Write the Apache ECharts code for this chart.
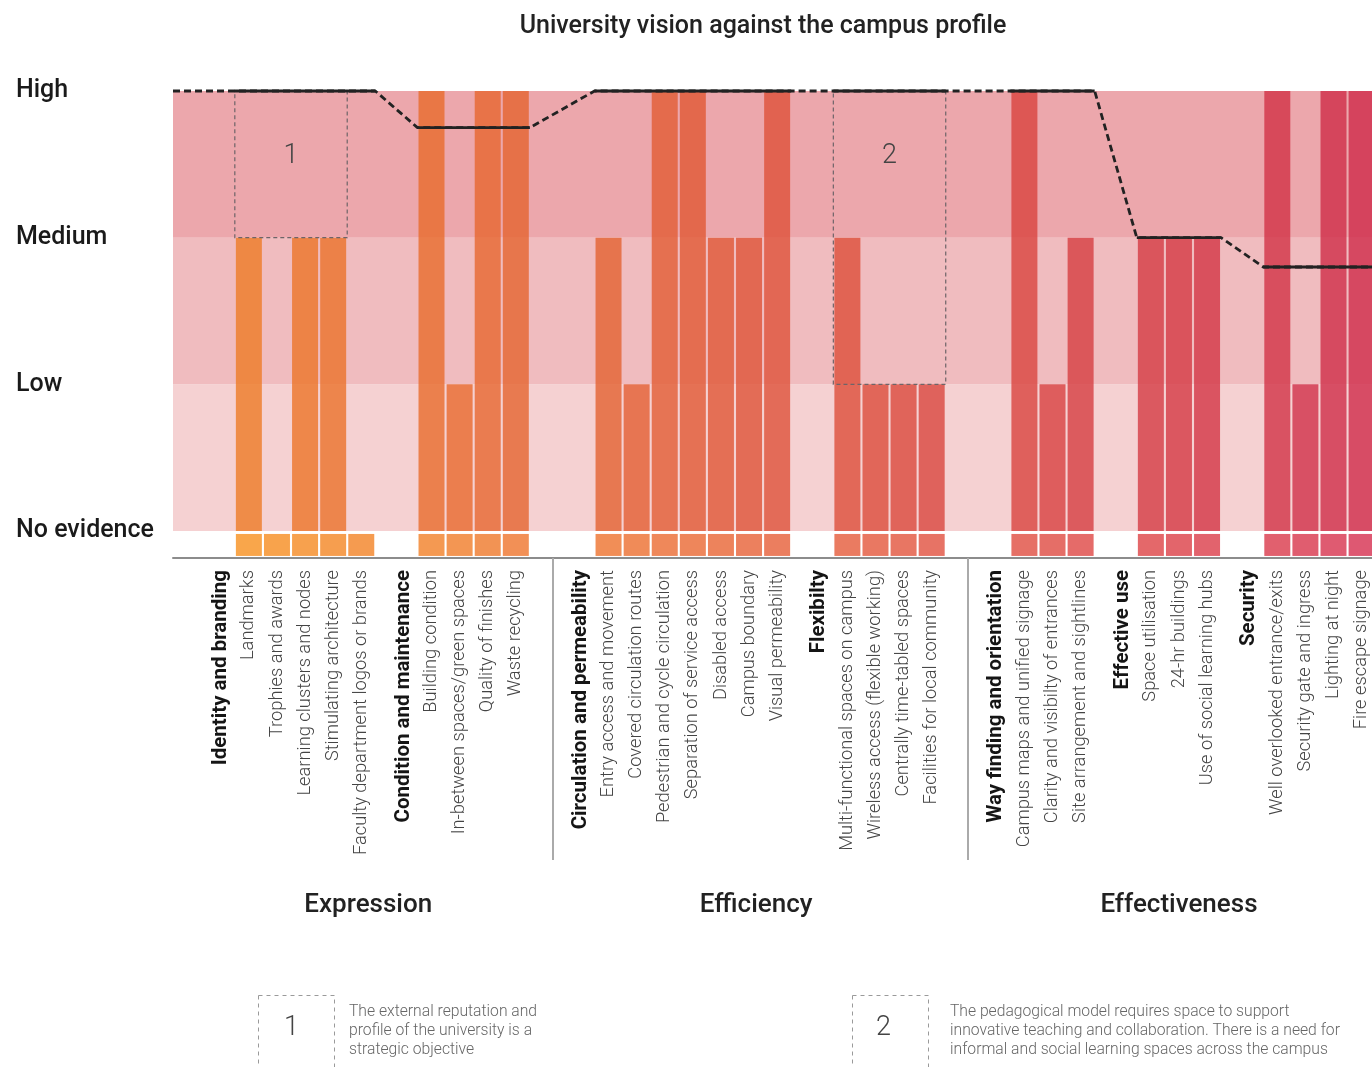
<!DOCTYPE html>
<html>
<head>
<meta charset="utf-8">
<title>University vision against the campus profile</title>
<script src="https://cdn.jsdelivr.net/npm/echarts@6/dist/echarts.min.js"></script>
<style>
  html, body { margin: 0; padding: 0; background: #fff; }
  #chart { width: 1372px; height: 1067px; }
</style>
</head>
<body>
<div id="chart"></div>
<script>
// ---- data ----
const levelLabels = ["No evidence", "Low", "Medium", "High"];
const sections = ["Expression", "Efficiency", "Effectiveness"];

const groupNames = [
  "Identity and branding",
  "Condition and maintenance",
  "Circulation and permeability",
  "Flexibilty",
  "Way finding and orientation",
  "Effective use",
  "Security"
];
const groupSection = [0, 0, 1, 1, 2, 2, 2];
// university vision per group (0 = no evidence ... 3 = high)
const groupVision = [3, 2.75, 3, 3, 3, 2, 1.8];

const groupItems = [
  ["Landmarks", "Trophies and awards", "Learning clusters and nodes", "Stimulating architecture", "Faculty department logos or brands"],
  ["Building condition", "In-between spaces/green spaces", "Quality of finishes", "Waste recycling"],
  ["Entry access and movement", "Covered circulation routes", "Pedestrian and cycle circulation", "Separation of service access", "Disabled access", "Campus boundary", "Visual permeability"],
  ["Multi-functional spaces on campus", "Wireless access (flexible working)", "Centrally time-tabled spaces", "Facilities for local community"],
  ["Campus maps and unified signage", "Clarity and visibilty of entrances", "Site arrangement and sightlines"],
  ["Space utilisation", "24-hr buildings", "Use of social learning hubs"],
  ["Well overlooked entrance/exits", "Security gate and ingress", "Lighting at night", "Fire escape signage"]
];
// campus profile per item
const groupProfile = [
  [2, 0, 2, 2, 0],
  [3, 1, 3, 3],
  [2, 1, 3, 3, 2, 2, 3],
  [2, 1, 1, 1],
  [3, 1, 2],
  [2, 2, 2],
  [3, 1, 3, 3]
];

// highlighted boxes: group, first item, last item, level from, level to
const noteGroup = [0, 3];
const noteFirst = [0, 0];
const noteLast = [3, 3];
const noteFrom = [2, 1];
const noteTo = [3, 3];
const noteLabels = ["1", "2"];
const noteTexts = [
  "The external reputation and\nprofile of the university is a\nstrategic objective",
  "The pedagogical model requires space to support\ninnovative teaching and collaboration. There is a need for\ninformal and social learning spaces across the campus"
];

// ---- layout along x (in item steps) ----
const headPos = [];
const itemPos = [];
const dividers = [];
let x = 1.7;
groupNames.forEach((g, gi) => {
  if (gi > 0) {
    if (groupSection[gi] !== groupSection[gi - 1]) {
      const d = x + 1.3;
      dividers.push(d);
      x = d + 1;
    } else {
      x = x + 1.5;
    }
  }
  headPos.push(x);
  itemPos.push(groupItems[gi].map((_, k) => x + 1 + k));
  x = x + groupItems[gi].length;
});

const sectionCenters = sections.map((s, si) => {
  const gs = groupNames.map((_, gi) => gi).filter(gi => groupSection[gi] === si);
  const start = headPos[gs[0]] - 1.3;
  const last = itemPos[gs[gs.length - 1]];
  const end = last[last.length - 1] + 1.3;
  return (start + end) / 2;
});

const labelMap = {};
groupNames.forEach((g, gi) => {
  labelMap[headPos[gi].toFixed(2)] = "{h|" + g + "}";
  groupItems[gi].forEach((it, k) => {
    labelMap[itemPos[gi][k].toFixed(2)] = "{i|" + it + "}";
  });
});
const labelValues = Object.keys(labelMap).map(Number);
const sectionMap = {};
sectionCenters.forEach((c, i) => { sectionMap[c.toFixed(2)] = sections[i]; });

// ---- colours ----
const bandColors = ["#f5d1d2", "#f0bcbf", "#eca7ac"];
function mix(a, b, t) {
  const pa = [1, 3, 5].map(i => parseInt(a.substr(i, 2), 16));
  const pb = [1, 3, 5].map(i => parseInt(b.substr(i, 2), 16));
  return "rgb(" + pa.map((v, i) => Math.round(v + (pb[i] - v) * t)).join(",") + ")";
}

const rows = [];
groupItems.forEach((list, gi) => list.forEach((it, k) => {
  rows.push({ pos: itemPos[gi][k], val: groupProfile[gi][k] });
}));
const n = rows.length;

const barData = rows.map((r, i) => ({
  value: [r.pos, r.val],
  itemStyle: { color: mix("#ee7a26", "#cf2a4a", i / (n - 1)) }
}));
const squareData = rows.map(r => [r.pos, -0.1]);

// vision line
const dashedData = [[0, groupVision[0]]];
const solidData = [];
groupNames.forEach((g, gi) => {
  const s = itemPos[gi][0] - 0.5;
  const e = itemPos[gi][itemPos[gi].length - 1] + 0.5;
  dashedData.push([s, groupVision[gi]], [e, groupVision[gi]]);
  solidData.push([s, groupVision[gi]], [e, groupVision[gi]], [e + 0.05, null]);
});

const noteData = noteGroup.map((gi, i) => [
  itemPos[gi][noteFirst[i]] - 0.5,
  itemPos[gi][noteLast[i]] + 0.5,
  noteFrom[i],
  noteTo[i]
]);

const BAR_W = 26;
const font = "Roboto, 'Open Sans', sans-serif";

const chart = echarts.init(document.getElementById("chart"));
chart.setOption({
  animation: false,
  backgroundColor: "#fff",
  textStyle: { fontFamily: font },
  title: {
    text: "University vision against the campus profile",
    left: 758,
    textAlign: "center",
    top: 9,
    textStyle: { fontSize: 25, fontWeight: 500, color: "#222", fontFamily: font }
  },
  grid: { left: 173, right: 0, top: 91, bottom: 509, containLabel: false, outerBoundsMode: "none" },
  xAxis: [
    {
      type: "value",
      min: 0,
      max: 42.67,
      splitLine: { show: false },
      axisLine: { show: true, onZero: false, lineStyle: { color: "#8c8c8c", width: 2 } },
      axisTick: { show: true, customValues: dividers, length: 302, lineStyle: { color: "#aaaaaa", width: 2 } },
      axisLabel: {
        customValues: labelValues,
        rotate: 90,
        margin: 12,
        formatter: v => labelMap[v.toFixed(2)] || "",
        rich: {
          h: { fontSize: 20.5, fontWeight: "bold", color: "#151515", fontFamily: font },
          i: { fontSize: 18.3, fontWeight: 300, color: "#444", fontFamily: font }
        }
      }
    },
    {
      type: "value",
      min: 0,
      max: 42.67,
      position: "bottom",
      offset: 330,
      splitLine: { show: false },
      axisLine: { show: false },
      axisTick: { show: false },
      axisLabel: {
        customValues: sectionCenters,
        margin: 4,
        fontSize: 26,
        fontWeight: 500,
        color: "#222",
        fontFamily: font,
        formatter: v => sectionMap[v.toFixed(2)] || ""
      }
    }
  ],
  yAxis: {
    type: "value",
    min: -0.184,
    max: 3,
    splitLine: { show: false },
    axisLine: { show: false },
    axisTick: { show: false },
    axisLabel: {
      customValues: [0, 1, 2, 3],
      formatter: v => levelLabels[Math.round(v)],
      align: "left",
      margin: 157,
      fontSize: 25,
      fontWeight: 500,
      color: "#1a1a1a",
      fontFamily: font
    }
  },
  series: [
    {
      name: "bands",
      type: "custom",
      z: 0,
      silent: true,
      clip: false,
      data: bandColors.map((c, i) => [i, i + 1]),
      encode: { x: 0, y: 1 },
      renderItem(params, api) {
        const cs = params.coordSys;
        const top = api.coord([0, api.value(1)])[1];
        const bottom = api.coord([0, api.value(0)])[1];
        return {
          type: "rect",
          shape: { x: cs.x, y: top, width: cs.width, height: bottom - top },
          style: { fill: bandColors[params.dataIndex] }
        };
      }
    },
    {
      name: "profile",
      type: "bar",
      z: 2,
      barWidth: BAR_W,
      itemStyle: { opacity: 0.8 },
      data: barData
    },
    {
      name: "items",
      type: "custom",
      z: 2,
      data: squareData,
      encode: { x: 0, y: 1 },
      renderItem(params, api) {
        const xv = api.value(0);
        const p0 = api.coord([xv, -0.02]);
        const p1 = api.coord([xv, -0.17]);
        return {
          type: "rect",
          shape: { x: p0[0] - BAR_W / 2, y: p0[1], width: BAR_W, height: p1[1] - p0[1] },
          style: { fill: mix("#f9a64b", "#de5872", params.dataIndex / (n - 1)) }
        };
      }
    },
    {
      name: "notes",
      type: "custom",
      z: 4,
      silent: true,
      clip: false,
      data: noteData,
      encode: { x: [0, 1], y: [2, 3] },
      renderItem(params, api) {
        const a = api.coord([api.value(0), api.value(3)]);
        const b = api.coord([api.value(1), api.value(2)]);
        return {
          type: "group",
          children: [
            {
              type: "rect",
              shape: { x: a[0], y: a[1], width: b[0] - a[0], height: b[1] - a[1] },
              style: { fill: "none", stroke: "#6e6468", lineWidth: 1.2, lineDash: [4, 3] }
            },
            {
              type: "text",
              style: {
                text: noteLabels[params.dataIndex],
                x: (a[0] + b[0]) / 2,
                y: a[1] + 65,
                align: "center",
                verticalAlign: "middle",
                fontSize: 27,
                fontWeight: 300,
                fontFamily: font,
                fill: "#444"
              }
            }
          ]
        };
      }
    },
    {
      name: "vision (transition)",
      type: "line",
      z: 5,
      clip: false,
      symbol: "none",
      silent: true,
      lineStyle: { color: "#222", width: 2.8, type: [7, 4] },
      data: dashedData
    },
    {
      name: "vision",
      type: "line",
      z: 6,
      clip: false,
      symbol: "none",
      silent: true,
      connectNulls: false,
      lineStyle: { color: "#222", width: 2.8 },
      data: solidData
    }
  ],
  graphic: [
    {
      type: "rect", left: 256, top: 993,
      shape: { width: 76, height: 90 },
      style: { fill: "none", stroke: "#9a9a9a", lineWidth: 1, lineDash: [4, 4] }
    },
    {
      type: "text", left: 284, top: 1015,
      style: { text: "1", fontSize: 27, fontWeight: 300, fontFamily: font, fill: "#444" }
    },
    {
      type: "text", left: 349, top: 1003,
      style: { text: noteTexts[0], fontSize: 15.7, lineHeight: 19, fontWeight: 300, fontFamily: font, fill: "#666" }
    },
    {
      type: "rect", left: 850, top: 993,
      shape: { width: 76, height: 90 },
      style: { fill: "none", stroke: "#9a9a9a", lineWidth: 1, lineDash: [4, 4] }
    },
    {
      type: "text", left: 876, top: 1015,
      style: { text: "2", fontSize: 27, fontWeight: 300, fontFamily: font, fill: "#444" }
    },
    {
      type: "text", left: 950, top: 1003,
      style: { text: noteTexts[1], fontSize: 15.7, lineHeight: 19, fontWeight: 300, fontFamily: font, fill: "#666" }
    }
  ]
});
</script>
</body>
</html>
